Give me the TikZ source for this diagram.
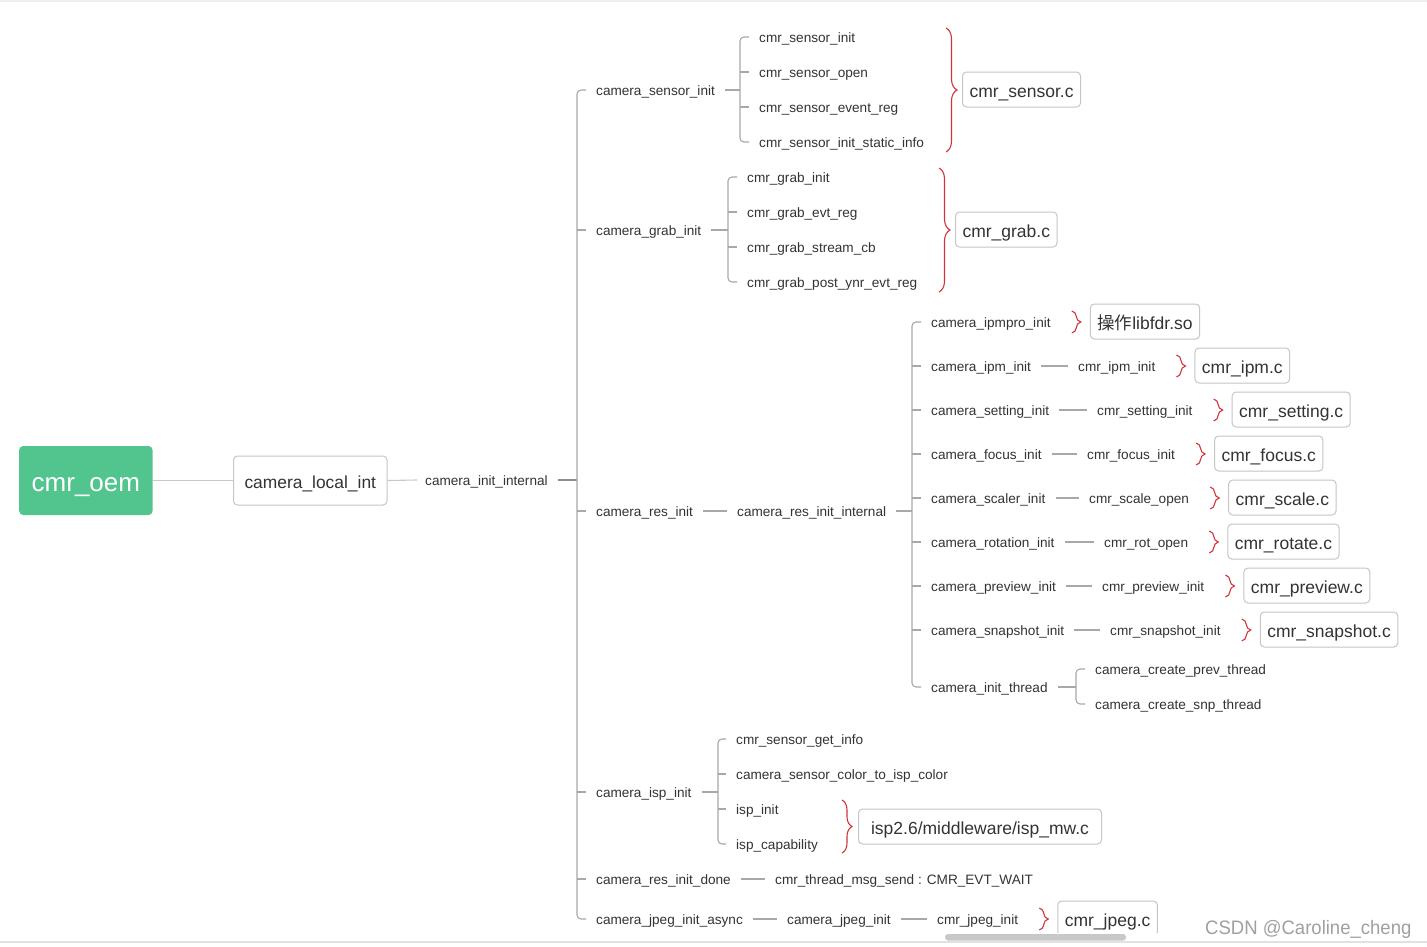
\documentclass[tikz,border=0pt]{standalone}
\usepackage{fontspec}
\setmainfont{Liberation Sans}
\newfontfamily\cjk{Noto Sans CJK SC}
\usetikzlibrary{decorations.pathreplacing}
\definecolor{txt}{HTML}{333333}
\definecolor{lnc}{HTML}{A8A8A8}
\definecolor{boxc}{HTML}{C6C6C6}
\definecolor{redc}{HTML}{D0343C}
\definecolor{oemgreen}{HTML}{52C48D}
\definecolor{wm}{HTML}{A0A0A0}
\begin{document}
\begin{tikzpicture}[x={(1pt,0)}, y={(0,-1pt)},
  t/.style={anchor=west, inner sep=0pt, font=\fontsize{13.6}{16}\selectfont, text=txt, text height=11pt, text depth=0pt},
  box/.style={draw=boxc, line width=1pt, rounded corners=4pt, fill=white, inner xsep=7pt, inner ysep=0pt, minimum height=35pt, anchor=west, font=\fontsize{17.5}{20}\selectfont, text=txt, text height=15pt, text depth=0pt},
  rootbox/.style={fill=oemgreen, rounded corners=4pt, inner xsep=12.5pt, inner ysep=0pt, minimum height=69pt, anchor=west, font=\fontsize{26}{30}\selectfont, text=white, text height=21pt, text depth=0pt},
  ln/.style={draw=lnc, line width=1.1pt},
  br/.style={ln, rounded corners=4pt},
  rb/.style={draw=redc, line width=1.1pt, decorate, decoration={brace, amplitude=#1}},
]
\fill[white] (0,0) rectangle (1427,946);
\useasboundingbox (0,0) rectangle (1427,946);
\draw[draw={rgb,255:red,238;green,238;blue,238}, line width=2pt] (0,1) -- (1427,1);

% coordinates of brackets
\coordinate (T) at (577,0);
\coordinate (B1) at (740,0);
\coordinate (B2) at (728,0);
\coordinate (B3) at (912,0);
\coordinate (B4) at (1076,0);
\coordinate (B5) at (718,0);

% root
\node[rootbox] (oem) at (19,480.5) {cmr\_oem};
\node[box, minimum height=49pt, inner xsep=11pt, font=\fontsize{17.4}{20}\selectfont] (local) at (233,480.5) {camera\_local\_int};
\node[t] (cii) at (425,480) {camera\_init\_internal};
\draw[ln, draw={rgb,255:red,200;green,200;blue,200}] (oem.east) -- (local.west);
\draw[ln, draw={rgb,255:red,200;green,200;blue,200}] (local.east) -- ([xshift=-8pt]cii.west);
\draw[ln, draw={rgb,255:red,140;green,140;blue,140}] ([xshift=10pt]cii.east) -- (cii.east -| T);

% level 1
\node[t] (s1) at (596,90) {camera\_sensor\_init};
\node[t] (s2) at (596,230) {camera\_grab\_init};
\node[t] (s3) at (596,511) {camera\_res\_init};
\node[t] (s4) at (596,792) {camera\_isp\_init};
\node[t] (s5) at (596,879) {camera\_res\_init\_done};
\node[t] (s6) at (596,919) {camera\_jpeg\_init\_async};
\draw[br] ([xshift=-10pt]s1.west) -- (s1.west -| T) -- (s6.west -| T) -- ([xshift=-10pt]s6.west);
\foreach \n in {s2,s3,s4,s5} \draw[ln] (\n.west -| T) -- ([xshift=-10pt]\n.west);

% sensor group
\node[t] (a1) at (759,37) {cmr\_sensor\_init};
\node[t] (a2) at (759,72) {cmr\_sensor\_open};
\node[t] (a3) at (759,107) {cmr\_sensor\_event\_reg};
\node[t] (a4) at (759,142) {cmr\_sensor\_init\_static\_info};
\draw[ln] ([xshift=10pt]s1.east) -- (s1.east -| B1);
\draw[br] ([xshift=-10pt]a1.west) -- (a1.west -| B1) -- (a4.west -| B1) -- ([xshift=-10pt]a4.west);
\foreach \n in {a2,a3} \draw[ln] (\n.west -| B1) -- ([xshift=-10pt]\n.west);
\coordinate (rb1t) at (946,28);
\coordinate (rb1b) at (946,152);
\draw[rb=11pt] (rb1t) -- (rb1b);
\node[box] (bsensor) at (962,89.5) {cmr\_sensor.c};

% grab group
\node[t] (g1) at (747,177) {cmr\_grab\_init};
\node[t] (g2) at (747,212) {cmr\_grab\_evt\_reg};
\node[t] (g3) at (747,247) {cmr\_grab\_stream\_cb};
\node[t] (g4) at (747,282) {cmr\_grab\_post\_ynr\_evt\_reg};
\draw[ln] ([xshift=10pt]s2.east) -- (s2.east -| B2);
\draw[br] ([xshift=-10pt]g1.west) -- (g1.west -| B2) -- (g4.west -| B2) -- ([xshift=-10pt]g4.west);
\foreach \n in {g2,g3} \draw[ln] (\n.west -| B2) -- ([xshift=-10pt]\n.west);
\coordinate (rb2t) at (939,168);
\coordinate (rb2b) at (939,292);
\draw[rb=11pt] (rb2t) -- (rb2b);
\node[box] (bgrab) at (955,229.5) {cmr\_grab.c};

% res group
\node[t] (r0) at (737,511) {camera\_res\_init\_internal};
\draw[ln] ([xshift=10pt]s3.east) -- ([xshift=-10pt]r0.west);
\node[t] (c1) at (931,322) {camera\_ipmpro\_init};
\node[t] (c2) at (931,366) {camera\_ipm\_init};
\node[t] (c3) at (931,410) {camera\_setting\_init};
\node[t] (c4) at (931,454) {camera\_focus\_init};
\node[t] (c5) at (931,498) {camera\_scaler\_init};
\node[t] (c6) at (931,542) {camera\_rotation\_init};
\node[t] (c7) at (931,586) {camera\_preview\_init};
\node[t] (c8) at (931,630) {camera\_snapshot\_init};
\node[t] (c9) at (931,687) {camera\_init\_thread};
\draw[ln] ([xshift=10pt]r0.east) -- (r0.east -| B3);
\draw[br] ([xshift=-10pt]c1.west) -- (c1.west -| B3) -- (c9.west -| B3) -- ([xshift=-10pt]c9.west);
\foreach \n in {c2,c3,c4,c5,c6,c7,c8} \draw[ln] (\n.west -| B3) -- ([xshift=-10pt]\n.west);

\node[t] (d2) at (1078,366) {cmr\_ipm\_init};
\node[t] (d3) at (1097,410) {cmr\_setting\_init};
\node[t] (d4) at (1087,454) {cmr\_focus\_init};
\node[t] (d5) at (1089,498) {cmr\_scale\_open};
\node[t] (d6) at (1104,542) {cmr\_rot\_open};
\node[t] (d7) at (1102,586) {cmr\_preview\_init};
\node[t] (d8) at (1110,630) {cmr\_snapshot\_init};
\foreach \i in {2,...,8} \draw[ln] ([xshift=10pt]c\i.east) -- ([xshift=-10pt]d\i.west);

\foreach \n/\lab in {c1/{{\cjk 操作}libfdr.so}, d2/{cmr\_ipm.c}, d3/{cmr\_setting.c}, d4/{cmr\_focus.c}, d5/{cmr\_scale.c}, d6/{cmr\_rotate.c}, d7/{cmr\_preview.c}, d8/{cmr\_snapshot.c}} {
  \draw[rb=9pt] ([xshift=21pt,yshift=11pt]\n.east) -- ([xshift=21pt,yshift=-11pt]\n.east);
  \node[box] (b\n) at ([xshift=39pt,yshift=0.5pt]\n.east) {\lab};
}

% init thread
\node[t] (h1) at (1095,669) {camera\_create\_prev\_thread};
\node[t] (h2) at (1095,704) {camera\_create\_snp\_thread};
\draw[ln] ([xshift=10pt]c9.east) -- (c9.east -| B4);
\draw[br] ([xshift=-10pt]h1.west) -- (h1.west -| B4) -- (h2.west -| B4) -- ([xshift=-10pt]h2.west);

% isp group
\node[t] (i1) at (736,739) {cmr\_sensor\_get\_info};
\node[t] (i2) at (736,774) {camera\_sensor\_color\_to\_isp\_color};
\node[t] (i3) at (736,809) {isp\_init};
\node[t] (i4) at (736,844) {isp\_capability};
\draw[ln] ([xshift=10pt]s4.east) -- (s4.east -| B5);
\draw[br] ([xshift=-10pt]i1.west) -- (i1.west -| B5) -- (i4.west -| B5) -- ([xshift=-10pt]i4.west);
\foreach \n in {i2,i3} \draw[ln] (\n.west -| B5) -- ([xshift=-10pt]\n.west);
\coordinate (rb3t) at (842,800);
\coordinate (rb3b) at (842,853);
\draw[rb=10pt] (rb3t) -- (rb3b);
\node[box, minimum width=243pt] (bisp) at (858,826.5) {isp2.6/middleware/isp\_mw.c};

% res init done
\node[t] (e1) at (775,879) {cmr\_thread\_msg\_send : CMR\_EVT\_WAIT};
\draw[ln] ([xshift=10pt]s5.east) -- ([xshift=-10pt]e1.west);

% jpeg
\node[t] (j1) at (787,919) {camera\_jpeg\_init};
\node[t] (j2) at (937,919) {cmr\_jpeg\_init};
\draw[ln] ([xshift=10pt]s6.east) -- ([xshift=-10pt]j1.west);
\draw[ln] ([xshift=10pt]j1.east) -- ([xshift=-10pt]j2.west);
\draw[rb=9pt] ([xshift=21pt,yshift=11pt]j2.east) -- ([xshift=21pt,yshift=-11pt]j2.east);
\node[box] (bjpeg) at ([xshift=39pt,yshift=0.5pt]j2.east) {cmr\_jpeg.c};

% bottom strip, scrollbar and watermark
\fill[white] (0,933) rectangle (1427,946);
\fill[fill={rgb,255:red,200;green,200;blue,200}, rounded corners=3pt] (945,934) rectangle (1126,940.5);
\draw[draw={rgb,255:red,225;green,225;blue,225}, line width=1.2pt] (0,942) -- (1427,942);
\node[anchor=base west, inner sep=0pt, text=wm, font=\fontsize{19.5}{22}\selectfont, xscale=0.95] (wmk) at (1205,934) {CSDN @Caroline\_cheng};
\end{tikzpicture}
\end{document}
